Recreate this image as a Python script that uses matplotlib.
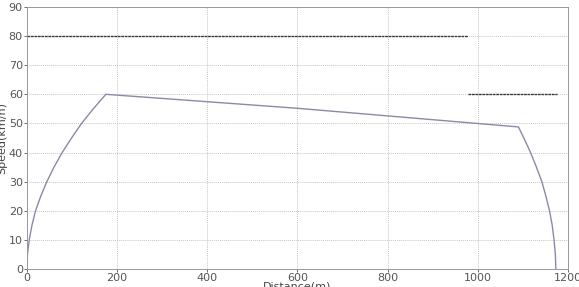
import matplotlib
matplotlib.use('Agg')
import matplotlib.pyplot as plt

# speed curve (distance in m, speed in km/h)
dist = [0, 1, 5, 11, 19, 30, 44, 60, 78, 98, 121, 147, 175,
        600, 1090, 1102, 1117, 1130, 1142, 1151, 1159, 1165, 1169, 1172, 1173]
speed = [0, 5, 10, 15, 20, 24.8, 30, 35, 40, 44.8, 50, 55, 60,
         55.2, 48.8, 45, 40, 35, 30, 25, 20, 15, 10, 5, 0]

# speed limits
lim1_x = [0, 978]
lim1_y = [80, 80]
lim2_x = [978, 1176]
lim2_y = [60, 60]

fig = plt.figure(figsize=(5.79, 2.87), dpi=100)
ax = fig.add_axes([0.0466, 0.0627, 0.9344, 0.913])

ax.plot(lim1_x, lim1_y, color='#3a3a3a', linestyle=(0, (2, 0.5)), linewidth=1.0)
ax.plot(lim2_x, lim2_y, color='#3a3a3a', linestyle=(0, (2, 0.5)), linewidth=1.0)
ax.plot(dist, speed, color='#8a8aa8', linewidth=1.0)

ax.set_xlim(0, 1200)
ax.set_ylim(0, 90)
ax.set_xticks(range(0, 1201, 200))
ax.set_yticks(range(0, 91, 10))
ax.grid(True, linestyle=(0, (1, 1)), color='#c8c8c8', linewidth=0.7)

for s in ax.spines.values():
    s.set_color('#999999')
    s.set_linewidth(0.7)
ax.tick_params(colors='#555555', labelsize=8, length=2, width=0.6, pad=1)
for lbl in ax.get_xticklabels() + ax.get_yticklabels():
    lbl.set_color('#555555')

ax.set_xlabel('Distance(m)', fontsize=8, color='#444444', labelpad=-1)
ax.set_ylabel('Speed(km/h)', fontsize=8, color='#444444', labelpad=1)

fig.savefig('out.png', dpi=100)
